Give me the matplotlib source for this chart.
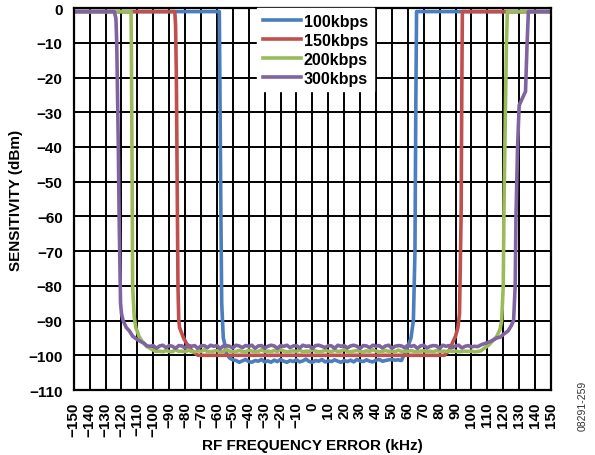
import numpy as np
import matplotlib
matplotlib.use("Agg")
import matplotlib.pyplot as plt

plt.rcParams['font.family'] = ['Liberation Sans', 'DejaVu Sans']
plt.rcParams['font.weight'] = 'bold'

labels = ["100kbps", "150kbps", "200kbps", "300kbps"]
colors = ["#4a7ebf", "#c0504d", "#9bbb59", "#8064a2"]

# 100kbps: left skirt, noisy floor (-48..56 kHz, 2 kHz step), right skirt
khz_100_left = [-150, -58.5, -58, -57.5, -57, -56, -55, -54, -52, -50]
dbm_100_left = [-1, -1, -30, -60, -85, -95, -97, -99.5, -100.8, -101.3]
floor_100 = [-101.5, -102.0, -101.6, -101.2, -101.8, -102.0, -101.5, -101.7, -101.2, -101.9,
             -101.6, -102.0, -101.4, -101.8, -101.2, -101.7, -102.0, -101.5, -101.8, -101.3,
             -101.9, -101.6, -101.1, -101.8, -102.0, -101.5, -101.7, -101.2, -101.9, -101.6,
             -101.8, -101.3, -101.7, -102.0, -101.5, -101.8, -101.4, -101.9, -101.2, -101.6,
             -101.8, -101.3, -101.7, -101.9, -101.4, -101.2, -101.7, -101.5, -101.3, -101.2,
             -101.4, -101.3, -101.5]
khz_100_right = [57.5, 60, 62, 63.5, 64.5, 65, 65.5, 150]
dbm_100_right = [-100, -97.5, -95, -90, -70, -30, -1, -1]

# 150kbps
khz_150 = [-150, -86.5, -86, -85.5, -85, -84.5, -84, -83.5, -81, -78, -75, -72,
           83, 86, 88, 90, 91.5, 92.5, 93.5, 94, 94.3, 150]
dbm_150 = [-1, -1, -5, -20, -50, -80, -90, -92, -95, -97.5, -99, -100,
           -100, -98.5, -96.5, -94.5, -92, -88, -60, -20, -1, -1]

# 200kbps: floor from -96 to 104 kHz, 2 kHz step
khz_200_left = [-150, -114, -113.8, -113.3, -113, -112, -111, -109, -107, -104, -100, -98]
dbm_200_left = [-1, -1, -10, -50, -80, -89, -92, -94.5, -96, -97.5, -98.5, -98.9]
floor_200 = [-98.8, -99.0, -98.6, -98.9, -99.0, -98.3, -98.9, -98.8, -99.0, -98.5,
             -98.9, -99.0, -98.7, -98.9, -98.4, -98.9, -99.0, -98.8, -98.6, -99.0,
             -98.9, -98.3, -98.8, -99.0, -98.9, -98.6, -98.9, -99.0, -98.5, -98.8,
             -99.0, -98.9, -98.4, -98.9, -98.8, -99.0, -98.6, -98.9, -98.3, -98.8,
             -99.0, -98.9, -98.7, -98.9, -98.5, -99.0, -98.8, -98.9, -98.4, -98.8,
             -99.0, -98.9, -98.6, -98.8, -99.0, -98.5, -98.9, -98.8, -98.3, -98.9,
             -99.0, -98.8, -98.6, -98.9, -99.0, -98.7, -98.9, -98.4, -98.8, -99.0,
             -98.9, -98.6, -98.9, -98.8, -99.0, -98.5, -98.9, -98.8, -98.9, -98.6,
             -98.9, -99.0, -98.8, -98.7, -98.9, -98.8, -99.0, -98.6, -98.9, -98.8,
             -98.9, -98.7, -98.9, -98.8, -99.0, -98.9, -98.8, -98.9, -98.8, -99.0,
             -98.9]
khz_200_right = [106, 108, 111, 114, 116, 118, 119, 120, 120.4, 121, 122, 122.6, 150]
dbm_200_right = [-98.7, -98, -97, -95.5, -94.5, -92.5, -90, -80, -60, -40, -10, -1, -1]

# 300kbps: floor from -102 to 102 kHz, 2 kHz step
khz_300_left = [-150, -124.5, -123.5, -123, -122, -121.5, -121, -120.6, -120, -119, -117,
                -115, -113, -110, -108, -106, -104]
dbm_300_left = [-1, -1, -3, -10, -40, -60, -75, -85, -88, -90, -92,
                -93, -94.5, -95.5, -96, -96.5, -97.3]
floor_300 = [-97.4, -97.2, -98.0, -97.3, -97.1, -97.8, -97.2, -97.4, -98.0, -97.2,
             -97.3, -97.9, -97.1, -97.4, -97.2, -98.0, -97.3, -97.2, -97.8, -97.1,
             -97.4, -97.2, -98.1, -97.3, -97.2, -97.4, -97.9, -97.1, -97.3, -97.8,
             -97.2, -97.4, -97.1, -98.0, -97.3, -97.2, -97.9, -97.4, -97.1, -97.3,
             -98.0, -97.2, -97.4, -97.1, -97.8, -97.3, -97.2, -97.9, -97.1, -97.4,
             -97.3, -98.0, -97.2, -97.1, -97.4, -97.8, -97.2, -97.3, -98.0, -97.1,
             -97.4, -97.2, -97.9, -97.3, -97.1, -97.4, -98.0, -97.2, -97.3, -97.8,
             -97.1, -97.4, -97.2, -97.9, -97.3, -97.1, -98.0, -97.4, -97.2, -97.3,
             -97.8, -97.1, -97.4, -97.2, -98.0, -97.3, -97.1, -97.9, -97.4, -97.2,
             -97.3, -98.0, -97.1, -97.4, -97.2, -97.8, -97.3, -97.1, -97.9, -97.4,
             -97.2, -97.6, -97.4]
khz_300_right = [104, 106, 109, 112, 116, 118, 120, 123, 125, 126.5, 127.5, 128, 129, 130,
                 134, 135, 135.8, 150]
dbm_300_right = [-97.5, -97, -96.5, -96, -95, -94.8, -94, -93, -91.5, -90, -80, -60, -40,
                 -28, -24, -10, -1, -1]

x_ticks = list(range(-150, 151, 10))
y_ticks = list(range(-110, 1, 10))


def series(left_x, left_y, floor_start, floor_vals, right_x, right_y):
    fx = floor_start + 2 * np.arange(len(floor_vals))
    return (np.concatenate([left_x, fx, right_x]),
            np.concatenate([left_y, floor_vals, right_y]))


curves = [
    series(khz_100_left, dbm_100_left, -48, floor_100, khz_100_right, dbm_100_right),
    (np.array(khz_150), np.array(dbm_150)),
    series(khz_200_left, dbm_200_left, -96, floor_200, khz_200_right, dbm_200_right),
    series(khz_300_left, dbm_300_left, -102, floor_300, khz_300_right, dbm_300_right),
]

fig = plt.figure(figsize=(5.95, 4.56), dpi=100)
ax = fig.add_axes([0.124, 0.1425, 0.802, 0.8375])

for (xs, ys), lab, col in zip(curves, labels, colors):
    ax.plot(xs, ys, color=col, lw=2.6, label=lab, zorder=3, solid_joinstyle='round')

ax.set_xlim(-150, 150)
ax.set_ylim(-110, 0)
ax.set_xticks(x_ticks)
ax.set_yticks(y_ticks)
ax.set_xticklabels([str(v).replace('-', '\u2212') for v in x_ticks],
                   rotation=90, fontsize=11, fontweight='bold')
ax.set_yticklabels([str(v).replace('-', '\u2212') for v in y_ticks],
                   fontsize=11, fontweight='bold')
ax.tick_params(length=0, pad=8)
ax.grid(True, color='black', lw=1.4, zorder=1)
ax.set_axisbelow(True)
for s in ax.spines.values():
    s.set_linewidth(1.6)
    s.set_zorder(4)

ax.set_xlabel("RF FREQUENCY ERROR (kHz)", fontsize=11, fontweight='bold', labelpad=2)
ax.set_ylabel("SENSITIVITY (dBm)", fontsize=11, fontweight='bold', labelpad=4)

leg = ax.legend(loc='upper left', bbox_to_anchor=(0.385, 1.0), frameon=True,
                fancybox=False, borderaxespad=0, handlelength=2.4, handletextpad=0.15,
                labelspacing=0.25, borderpad=0.35,
                prop={'weight': 'bold', 'size': 11.5})
leg.get_frame().set_facecolor('white')
leg.get_frame().set_edgecolor('white')
leg.get_frame().set_alpha(1)
leg.set_zorder(5)

fig.text(0.98, 0.11, "08291-259", rotation=90, fontsize=7.5, fontweight='normal',
         color='#333333', ha='center', va='center')

fig.savefig("out.png", dpi=100)
